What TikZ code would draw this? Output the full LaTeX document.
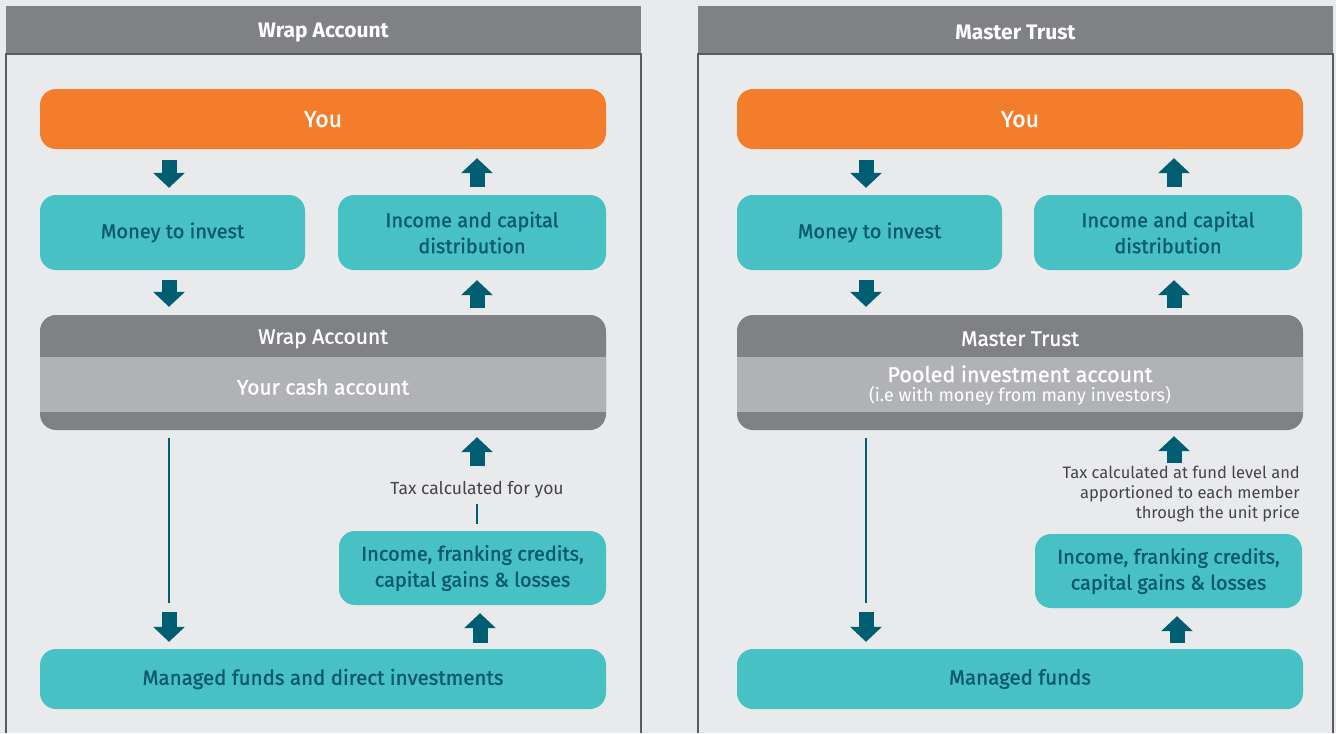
\documentclass[tikz,border=0pt]{standalone}
\usepackage{fontspec}
\setmainfont{Fira Sans}
\newfontfamily\medfont{Fira Sans}[FakeBold=1.2]
\usetikzlibrary{arrows.meta,positioning,calc}
\definecolor{bggrey}{HTML}{E9EAEC}
\definecolor{headgrey}{HTML}{808184}
\definecolor{bandgrey}{HTML}{B1B2B5}
\definecolor{edgegrey}{HTML}{5A5B5E}
\definecolor{youorange}{HTML}{F47D2B}
\definecolor{boxteal}{HTML}{48C1C4}
\definecolor{textteal}{HTML}{0B5A6B}
\definecolor{arrowteal}{HTML}{005E72}
\definecolor{notegrey}{HTML}{454547}

\begin{document}
\begin{tikzpicture}[x=1pt, y=-1pt, font=\medfont\fontsize{20}{26}\selectfont]
\tikzstyle{youbox}=[fill=youorange, text=white, rounded corners=16pt, minimum width=566pt, minimum height=60pt, text depth=0pt, font=\medfont\fontsize{23}{26}\selectfont]
\tikzstyle{stepbox}=[fill=boxteal, text=textteal, rounded corners=16pt, minimum height=75pt, align=center]
\tikzstyle{fundsbox}=[stepbox, minimum width=566pt, minimum height=60pt, font=\medfont\fontsize{20.5}{26}\selectfont]
\tikzstyle{acctbox}=[fill=headgrey, rounded corners=16pt, minimum width=566pt, minimum height=115pt]
\tikzstyle{acctlabel}=[text=white, inner sep=0pt, align=center, font=\medfont\fontsize{21}{24}\selectfont]
\tikzstyle{taxnote}=[text=notegrey, inner sep=0pt, font=\normalfont\fontsize{16.5}{20}\selectfont]
\tikzstyle{fat}=[draw=arrowteal, line width=15pt, -{Triangle[width=31pt,length=15pt]}]
\tikzstyle{stem}=[draw=arrowteal, line width=2.5pt]

% background and the two panels
\fill[bggrey] (0,0) rectangle (1336,733);
\foreach \px/\title in {6/Wrap Account, 698/Master Trust}{
  \fill[headgrey] (\px,6) rectangle ++(635,48);
  \draw[edgegrey, line width=1.2pt] (\px,733) -- (\px,54) -- ++(635,0) -- ++(0,679);
  \node[text=white, font=\normalfont\bfseries\fontsize{21}{24}\selectfont] at (\px+317.5,32.5) {\title};
}

% wrap account
\coordinate (downx1) at (169,0);
\coordinate (upx1)   at (477,0);
\node[youbox]  (you1)   at (323,119)   {You};
\node[stepbox, minimum width=265pt] (money1) at (172.5,232.5) {Money to invest};
\node[stepbox, minimum width=268pt] (dist1)  at (472,232.5)   {Income and capital\\distribution};
\node[acctbox] (wrap1)  at (323,372.5) {};
\fill[bandgrey] ($(wrap1.north west)+(0,42)$) rectangle ($(wrap1.south east)+(0,-18)$);
\node[acctlabel] at ($(wrap1.north)+(0,24)$) {Wrap Account};
\node[acctlabel] at ($(wrap1.north)+(0,72)$) {Your cash account};
\node[taxnote, font=\normalfont\fontsize{17.5}{20}\selectfont] (tax1) at (477,490) {Tax calculated for you};
\node[stepbox, minimum width=267pt, minimum height=74pt] (franking1) at (472.5,568) {Income, franking credits,\\capital gains \& losses};
\node[fundsbox] (funds1) at (323,679) {Managed funds and direct investments};
\coordinate (split1) at (169,603);

\draw[fat, shorten <=11pt, shorten >=7pt] (you1.south -| downx1) -- (money1.north -| downx1);
\draw[fat, shorten <=8pt, shorten >=9pt] (dist1.north -| upx1) -- (you1.south -| upx1);
\draw[fat, shorten <=10pt, shorten >=8pt] (money1.south -| downx1) -- (wrap1.north -| downx1);
\draw[fat, shorten <=7pt, shorten >=10pt] (wrap1.north -| upx1) -- (dist1.south -| upx1);
\draw[stem, shorten <=8pt] (wrap1.south -| downx1) -- (split1);
\draw[fat, shorten <=9pt, shorten >=7pt] (split1) -- (funds1.north -| downx1);
\draw[fat, shorten <=15pt, shorten >=7pt] (tax1.north) -- (wrap1.south -| tax1);
\draw[stem, shorten <=7pt, shorten >=5pt] (franking1.north -| tax1) -- (tax1.south);
\draw[fat, shorten <=6pt, shorten >=8pt] (funds1.north -| 480,0) -- (franking1.south -| 480,0);

% master trust
\coordinate (downx2) at (866,0);
\coordinate (upx2)   at (1174,0);
\node[youbox]  (you2)   at (1020,119)  {You};
\node[stepbox, minimum width=265pt] (money2) at (869.5,232.5) {Money to invest};
\node[stepbox, minimum width=268pt] (dist2)  at (1168,232.5)  {Income and capital\\distribution};
\node[acctbox] (master2) at (1020,372.5) {};
\fill[bandgrey] ($(master2.north west)+(0,42)$) rectangle ($(master2.south east)+(0,-18)$);
\node[acctlabel] at ($(master2.north)+(0,24)$) {Master Trust};
\node[acctlabel, font=\medfont\fontsize{21.5}{24}\selectfont] at ($(master2.north)+(0,59)$) {Pooled investment account};
\node[acctlabel, font=\normalfont\fontsize{18}{20}\selectfont] at ($(master2.north)+(0,81)$) {(i.e with money from many investors)};
\node[taxnote, align=right, anchor=north east] (tax2) at (1300,466) {Tax calculated at fund level and\\apportioned to each member\\through the unit price};
\node[stepbox, minimum width=267pt, minimum height=74pt] (franking2) at (1168.5,571) {Income, franking credits,\\capital gains \& losses};
\node[fundsbox] (funds2) at (1020,679) {Managed funds};
\coordinate (split2) at (866,603);

\draw[fat, shorten <=11pt, shorten >=7pt] (you2.south -| downx2) -- (money2.north -| downx2);
\draw[fat, shorten <=8pt, shorten >=9pt] (dist2.north -| upx2) -- (you2.south -| upx2);
\draw[fat, shorten <=10pt, shorten >=8pt] (money2.south -| downx2) -- (master2.north -| downx2);
\draw[fat, shorten <=7pt, shorten >=10pt] (master2.north -| upx2) -- (dist2.south -| upx2);
\draw[stem, shorten <=8pt] (master2.south -| downx2) -- (split2);
\draw[fat, shorten <=9pt, shorten >=7pt] (split2) -- (funds2.north -| downx2);
\draw[fat, shorten <=3pt, shorten >=6pt] (tax2.north -| upx2) -- (master2.south -| upx2);
\draw[fat, shorten <=6pt, shorten >=8pt] (funds2.north -| 1177,0) -- (franking2.south -| 1177,0);
\end{tikzpicture}
\end{document}
